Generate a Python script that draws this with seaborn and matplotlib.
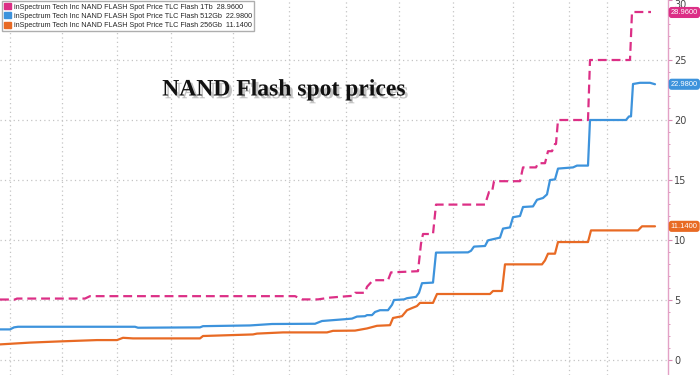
import matplotlib
matplotlib.use("Agg")
import matplotlib.pyplot as plt
import matplotlib.patheffects as pe
from matplotlib.patches import Patch
import seaborn as sns
import pandas as pd

# ---- data (x = position along time axis) ----
tb1_x = [0, 15, 17, 85, 90, 295, 302, 318, 330, 345, 353, 355, 365, 367, 373, 388, 391, 418, 421, 423,
         433, 436, 485, 489, 492, 494, 520, 523, 536, 538, 545, 548, 552, 555, 556, 558, 588, 590, 630, 632, 651]
tb1_y = [5.04, 5.04, 5.12, 5.12, 5.32, 5.32, 5.05, 5.05, 5.2, 5.3, 5.35, 5.6, 5.6, 6.1, 6.65, 6.65, 7.3, 7.4, 9.7, 10.5,
         10.5, 12.95, 12.95, 14.0, 14.0, 14.9, 14.9, 16.05, 16.05, 16.4, 16.4, 17.4, 17.4, 18.0, 18.0, 20.0, 20.0, 25.0, 25.0, 29.0, 29.0]

gb512_x = [0, 10, 14, 18, 135, 138, 200, 203, 250, 272, 315, 322, 345, 352, 357, 365, 367, 372, 375, 380, 388,
           392, 394, 404, 407, 416, 419, 422, 433, 436, 468, 471, 474, 485, 488, 500, 503, 510, 513, 520, 523,
           533, 537, 543, 547, 550, 555, 558, 573, 577, 588, 590, 626, 629, 631, 633, 640, 650, 655]
gb512_y = [2.55, 2.55, 2.72, 2.77, 2.77, 2.69, 2.72, 2.82, 2.88, 3.0, 3.02, 3.25, 3.4, 3.45, 3.62, 3.65, 3.74, 3.74, 4.0, 4.15, 4.15,
           4.6, 5.0, 5.05, 5.15, 5.26, 5.6, 6.4, 6.45, 8.95, 8.97, 9.1, 9.45, 9.5, 9.97, 10.2, 10.95, 11.05, 11.9, 12.0, 12.75,
           12.8, 13.35, 13.5, 13.8, 15.0, 15.05, 15.95, 16.05, 16.2, 16.2, 20.0, 20.0, 20.3, 20.3, 23.0, 23.1, 23.1, 22.98]

gb256_x = [0, 30, 60, 97, 117, 123, 133, 200, 203, 253, 257, 283, 327, 333, 355, 367, 377, 390, 393, 402, 407,
           417, 420, 433, 437, 490, 493, 502, 505, 542, 545, 548, 555, 558, 588, 591, 638, 642, 655]
gb256_y = [1.3, 1.45, 1.55, 1.66, 1.66, 1.85, 1.8, 1.8, 2.0, 2.13, 2.2, 2.3, 2.3, 2.43, 2.45, 2.63, 2.85, 2.9, 3.5, 3.65, 4.15,
           4.5, 4.76, 4.76, 5.5, 5.5, 5.75, 5.75, 7.97, 7.97, 8.3, 8.86, 8.86, 9.83, 9.83, 10.8, 10.8, 11.14, 11.14]

series_names = ["inSpectrum Tech Inc NAND FLASH Spot Price TLC Flash 1Tb",
                "inSpectrum Tech Inc NAND FLASH Spot Price TLC Flash 512Gb",
                "inSpectrum Tech Inc NAND FLASH Spot Price TLC Flash 256Gb"]
last_values = ["28.9600", "22.9800", "11.1400"]
last_y = [28.96, 22.98, 11.14]
vgrid_x = [10, 62, 117, 171, 233, 289, 346, 399, 453, 513, 569, 607]
y_ticks = [0, 5, 10, 15, 20, 25, 30]
title = "NAND Flash spot prices"

colors = ["#dc2f86", "#3d93dc", "#e86a24"]

sns.set_style("white")
plt.rcParams['font.family'] = ['DejaVu Sans']

fig = plt.figure(figsize=(7, 3.75), dpi=100)
ax = fig.add_axes([0, 0, 668 / 700, 1])

df1 = pd.DataFrame({"x": tb1_x, "y": tb1_y})
df2 = pd.DataFrame({"x": gb512_x, "y": gb512_y})
df3 = pd.DataFrame({"x": gb256_x, "y": gb256_y})

sns.lineplot(data=df3, x="x", y="y", ax=ax, color=colors[2], lw=1.6, estimator=None, sort=False)
sns.lineplot(data=df2, x="x", y="y", ax=ax, color=colors[1], lw=1.6, estimator=None, sort=False)
sns.lineplot(data=df1, x="x", y="y", ax=ax, color=colors[0], lw=1.6, estimator=None, sort=False,
             linestyle=(0, (4, 2.2)))

ax.set_xlim(0, 668)
ax.set_ylim(-1.25, 30.0)
ax.set_xlabel("")
ax.set_ylabel("")
ax.set_xticks([])

# grid
for gx in vgrid_x:
    ax.axvline(gx, color="#c4c4c4", lw=0.9, linestyle=(0, (1, 2.5)), zorder=0)
for gy in y_ticks[:-1]:
    ax.axhline(gy, color="#c4c4c4", lw=0.9, linestyle=(0, (1, 2.5)), zorder=0)

# right axis
ax.yaxis.tick_right()
ax.set_yticks(y_ticks)
ax.set_yticks([v for v in range(0, 31) if v % 5 != 0], minor=True)
ax.tick_params(axis="y", which="major", right=True, length=3, width=0.8, color="#d98ab5",
               labelsize=7, labelcolor="#444444", pad=1.5)
ax.tick_params(axis="y", which="minor", right=True, length=1.5, width=0.6, color="#d98ab5")
ax.get_yticklabels()[-1].set_verticalalignment("top")
for s in ["left", "top", "bottom"]:
    ax.spines[s].set_visible(False)
ax.spines["right"].set_color("#e3a1c6")
ax.spines["right"].set_linewidth(1.0)

# last value tags
for val, txt, c in zip(last_y, last_values, colors):
    ax.annotate(txt, xy=(1.0, val), xycoords=("axes fraction", "data"),
                xytext=(2, 0), textcoords="offset points", va="center", ha="left",
                fontsize=5.4, family="Liberation Sans", color="white",
                bbox=dict(boxstyle="round,pad=0.18,rounding_size=0.3", fc=c, ec=c),
                annotation_clip=False)

# title with shadow
fig.text(284 / 700, 1 - 90 / 375, title, ha="center", va="center", fontsize=17,
         fontweight="bold", family="Liberation Serif", color="#111111",
         path_effects=[pe.withSimplePatchShadow(offset=(2, -2), shadow_rgbFace="#888888", alpha=0.5)])

# legend
handles = [Patch(facecolor=c, edgecolor=c) for c in colors]
labels = [f"{n}  {v}" for n, v in zip(series_names, last_values)]
fig.legend(handles, labels, loc="upper left", bbox_to_anchor=(2 / 700, 1 - 1 / 375),
           prop={"family": "Liberation Sans", "size": 5.2},
           frameon=True, edgecolor="#9a9a9a", fancybox=False, borderpad=0.3,
           handlelength=0.9, handleheight=0.9, handletextpad=0.4, labelspacing=0.25,
           borderaxespad=0)

fig.savefig("out.png", dpi=100)
